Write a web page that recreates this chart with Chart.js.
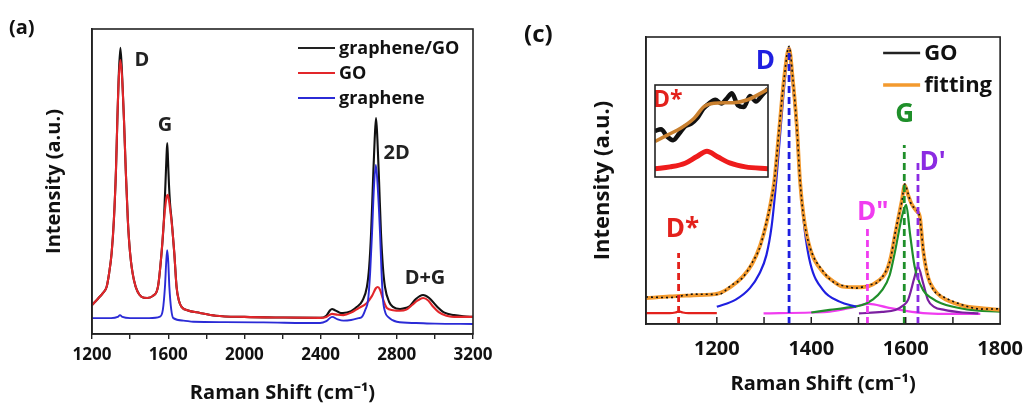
<!DOCTYPE html>
<html>
<head>
<meta charset="utf-8">
<script src="https://cdn.jsdelivr.net/npm/chart.js@4.4.1/dist/chart.umd.min.js"></script>
<style>
  html, body { margin: 0; padding: 0; background: #fff; }
  #wrap { position: relative; width: 1036px; height: 407px; overflow: hidden; background: #fff; }
  #wrap canvas { position: absolute; }
  .panel_tag { position: absolute; font-family: 'Open Sans', 'Liberation Sans', sans-serif; font-weight: 700; color: #111; line-height: 1; }
</style>
</head>
<body>
<div id="wrap">
  <canvas id="chart_a" width="520" height="407" style="left:0;top:0;width:520px;height:407px;"></canvas>
  <canvas id="chart_c" width="516" height="407" style="left:520px;top:0;width:516px;height:407px;"></canvas>
  <canvas id="chart_inset" width="115" height="94" style="left:654px;top:84px;width:115px;height:94px;"></canvas>
  <div class="panel_tag" style="left:9px;top:17px;font-size:20px;">(a)</div>
  <div class="panel_tag" style="left:524px;top:21px;font-size:24px;">(c)</div>
</div>
<script>
const FONT_FAMILY = "'Open Sans', 'Liberation Sans', sans-serif";

// ---- panel (a): full spectra ----
const a_series_names = ['graphene/GO', 'GO', 'graphene'];
const a_tick_labels = [1200, 1600, 2000, 2400, 2800, 3200];

const a_hybrid_x = [1200, 1230, 1258, 1277, 1290, 1303, 1315, 1326, 1333, 1340, 1349, 1358, 1368, 1377, 1388, 1400, 1420, 1460, 1490, 1520, 1546, 1565, 1578, 1586, 1591, 1595, 1599, 1604, 1610, 1618, 1632, 1644, 1656, 1670, 1700, 1767, 1850, 2000, 2200, 2397, 2430, 2450, 2460, 2475, 2500, 2517, 2560, 2591, 2620, 2643, 2655, 2665, 2675, 2684, 2691, 2698, 2707, 2717, 2727, 2738, 2760, 2780, 2817, 2850, 2869, 2900, 2938, 2970, 3011, 3050, 3100, 3150, 3200];
const a_hybrid_y = [9.5, 11.5, 13.5, 15.5, 20, 26.5, 37.5, 54, 70, 84, 93.8, 85, 70, 54, 37.5, 26.5, 17.7, 12.2, 11.8, 12.5, 15.4, 26.5, 38, 50, 58, 62.6, 57, 49, 42.5, 37.4, 26.5, 15.4, 11, 8.9, 7.8, 6.9, 6, 5.6, 5.4, 5.3, 6, 7.8, 8.2, 7.8, 7, 6.9, 7.5, 8.9, 11, 15.4, 22, 33, 50, 64, 70.8, 64, 50, 33, 22, 15.4, 10.5, 8.9, 8.2, 8.6, 9.2, 11.5, 12.8, 11.8, 9, 7, 6.2, 5.8, 5.6];

const a_go_x = [1200, 1230, 1258, 1277, 1290, 1303, 1315, 1326, 1333, 1340, 1349, 1358, 1368, 1377, 1388, 1400, 1420, 1460, 1490, 1520, 1546, 1565, 1578, 1586, 1592, 1598, 1606, 1612, 1620, 1632, 1644, 1656, 1670, 1700, 1767, 1850, 2000, 2200, 2397, 2430, 2460, 2490, 2520, 2560, 2600, 2640, 2670, 2690, 2700, 2712, 2730, 2748, 2780, 2817, 2850, 2880, 2910, 2938, 2965, 2990, 3020, 3060, 3120, 3200];
const a_go_y = [9.5, 11.5, 13.5, 15.5, 20, 26.5, 37.5, 54, 70, 83, 89.8, 84, 70, 54, 37.5, 26.5, 17.7, 12.2, 11.8, 12.5, 15.4, 26.5, 37.4, 42.5, 45, 45.6, 43, 40, 35.5, 26.5, 15.4, 11, 8.9, 7.8, 6.9, 6, 5.6, 5.4, 5.3, 5.6, 6.6, 6.3, 6.2, 7, 8.5, 10, 12.5, 15, 15.4, 14.5, 11, 8.5, 7.8, 7.6, 8, 9.5, 11, 11.8, 11, 9, 7.2, 6, 5.6, 5.6];

const a_graphene_x = [1200, 1300, 1335, 1347, 1360, 1400, 1500, 1557, 1572, 1583, 1590, 1595, 1600, 1606, 1616, 1627, 1680, 1732, 1900, 2100, 2397, 2430, 2460, 2490, 2520, 2560, 2600, 2617, 2635, 2649, 2660, 2670, 2680, 2690, 2700, 2712, 2720, 2728, 2740, 2754, 2800, 2900, 3000, 3200];
const a_graphene_y = [5.2, 5.2, 5.6, 6.2, 5.6, 5.2, 5.2, 5.7, 8, 15.5, 24, 27.5, 24, 15.5, 8, 5.2, 4.4, 4, 3.9, 3.8, 3.6, 4.2, 5.6, 4.8, 4.4, 4.6, 5.2, 5.6, 8, 11, 20, 33, 48, 55.4, 48, 33, 20, 11, 7, 5.6, 4, 3.6, 3.4, 3.3];

const a_peak_names = ['D', 'G', '2D', 'D+G'];
const a_peak_label_x = [1462, 1583, 2799, 2948];
const a_peak_label_y = [89.8, 68.5, 59.2, 18.4];

// ---- panel (c): GO fitting ----
const c_series_names = ['GO', 'fitting'];
const c_tick_labels = [1200, 1400, 1600, 1800];

const c_fit_x = [1050, 1100, 1150, 1204, 1230, 1255, 1275, 1292, 1305, 1315, 1322, 1332, 1342, 1353, 1361, 1370, 1376, 1384, 1398, 1425, 1450, 1467, 1495, 1522, 1540, 1557, 1568, 1578, 1592, 1598, 1605, 1612, 1622, 1630, 1637, 1647, 1660, 1675, 1716, 1760, 1800];
const c_fit_y = [9, 9.6, 10, 10.7, 13, 16.5, 21, 27.5, 35, 43, 50.2, 67.6, 85, 96, 85, 67.6, 50.2, 37.4, 26, 18, 14.5, 13, 12.8, 13.2, 14.8, 17.7, 23, 31.6, 43.2, 48.4, 45, 42, 39.5, 37.4, 25.8, 16.5, 12, 9.5, 6.6, 5.5, 4.9];
const c_go_y = [9.4, 9.2, 10.4, 10.3, 13.4, 16.2, 21.4, 27.1, 35.5, 42.6, 50, 68, 84.6, 96.8, 85.5, 67.2, 50.6, 37, 26.4, 18.4, 14.2, 13.4, 12.5, 13.6, 14.5, 18.1, 22.7, 32, 42.8, 48.8, 45.5, 41.6, 40, 37, 26.3, 16.9, 11.6, 9.9, 6.9, 5.2, 5.3];

const c_d_x = [1200, 1240, 1270, 1290, 1305, 1316, 1326, 1336, 1344, 1352, 1360, 1368, 1376, 1386, 1398, 1425, 1460, 1495];
const c_d_y = [6, 8.5, 12.5, 17.5, 24, 34, 50, 70, 85, 95, 85, 70, 50, 32.8, 21.1, 11.8, 7.8, 6];
const c_g_x = [1400, 1439, 1480, 1508, 1530, 1550, 1566, 1578, 1592, 1601, 1609, 1619, 1637, 1655, 1675, 1730, 1800];
const c_g_y = [4, 4.9, 5.8, 6.6, 8.5, 11.8, 17, 25.8, 37.4, 41.5, 31.6, 20, 11.8, 9, 7.2, 5.1, 4.3];
const c_dp_x = [1501, 1550, 1578, 1595, 1605, 1619, 1626, 1637, 1647, 1660, 1682, 1720, 1754];
const c_dp_y = [3.7, 4.2, 4.9, 6.5, 8.4, 16.5, 20, 14.2, 8.4, 6, 4.9, 4, 3.7];
const c_dpp_x = [1299, 1400, 1439, 1480, 1522, 1560, 1600, 1647, 1700, 1758];
const c_dpp_y = [3.7, 4, 4.3, 5.5, 7, 5.8, 4.6, 3.7, 3.5, 3.5];
const c_dstar_x = [1050, 1100, 1112, 1120, 1128, 1140, 1200];
const c_dstar_y = [3.8, 3.8, 4, 4.4, 4, 3.8, 3.8];

const c_band_names = ['D*', 'D', 'D"', 'G', "D'"];
const c_band_colors = ['#e3211c', '#1f1fe0', '#f03cf0', '#1f8f2a', '#8b2be2'];
const c_band_pos = [1119, 1353, 1519, 1597, 1626];
const c_band_top = [24.7, 96, 33.9, 62.4, 56.2];
const c_band_label_x = [1127, 1303, 1530, 1598, 1657];
const c_band_label_y = [32.8, 91.3, 38.7, 72.8, 56.4];

// ---- inset of panel (c): D* region ----
const inset_go_x = [1050, 1058, 1066, 1074, 1082, 1090, 1098, 1106, 1114, 1122, 1130, 1138, 1146, 1152, 1160, 1168, 1176, 1184, 1192, 1200];
const inset_go_y = [50, 52, 44, 40, 47, 55, 58, 64, 74, 80, 84, 80, 86, 91, 78, 76, 88, 82, 89, 96];
const inset_fit_x = [1050, 1067, 1084, 1102, 1115, 1128, 1154, 1172, 1200];
const inset_fit_y = [38.6, 45.8, 53, 63.9, 76.5, 80.2, 80.8, 83.7, 95.3];
const inset_dstar_x = [1050, 1070, 1090, 1105, 1119, 1133, 1150, 1170, 1200];
const inset_dstar_y = [9, 11, 15, 22, 28, 22, 15, 11, 9];

function to_points(xs, ys) {
    return xs.map(function (x, idx) {
        return { x: x, y: ys[idx] };
    });
}

function band_line(idx) {
    return [{ x: c_band_pos[idx], y: 0 }, { x: c_band_pos[idx], y: c_band_top[idx] }];
}

function curve(label, xs, ys, color, width, order) {
    return {
        label: label,
        data: to_points(xs, ys),
        borderColor: color,
        borderWidth: width,
        pointRadius: 0,
        fill: false,
        cubicInterpolationMode: 'monotone',
        order: order,
    };
}

const frame_plugin = {
    id: 'frame_box',
    afterDraw(chart) {
        const area = chart.chartArea;
        const ctx = chart.ctx;
        ctx.save();
        ctx.strokeStyle = '#222';
        ctx.lineWidth = 1.6;
        ctx.strokeRect(area.left, area.top, area.right - area.left, area.bottom - area.top);
        ctx.restore();
    },
};

function make_label_plugin(names, xs, ys, colors, font_size) {
    return {
        id: 'peak_labels',
        afterDatasetsDraw(chart) {
            const ctx = chart.ctx;
            const sx = chart.scales.x;
            const sy = chart.scales.y;
            ctx.save();
            ctx.font = 'bold ' + font_size + 'px ' + FONT_FAMILY;
            ctx.textAlign = 'center';
            ctx.textBaseline = 'middle';
            names.forEach(function (name, idx) {
                ctx.fillStyle = colors[idx % colors.length];
                ctx.fillText(name, sx.getPixelForValue(xs[idx]), sy.getPixelForValue(ys[idx]));
            });
            ctx.restore();
        },
    };
}

function make_legend_plugin(names, colors, widths, from_right, from_top, row_gap, font_size) {
    return {
        id: 'corner_legend',
        afterDraw(chart) {
            const ctx = chart.ctx;
            const area = chart.chartArea;
            const x0 = area.right - from_right;
            ctx.save();
            ctx.font = 'bold ' + font_size + 'px ' + FONT_FAMILY;
            ctx.textAlign = 'left';
            ctx.textBaseline = 'middle';
            names.forEach(function (name, idx) {
                const y = area.top + from_top + idx * row_gap;
                ctx.strokeStyle = colors[idx];
                ctx.lineWidth = widths[idx];
                ctx.beginPath();
                ctx.moveTo(x0, y);
                ctx.lineTo(x0 + 37, y);
                ctx.stroke();
                ctx.fillStyle = '#111';
                ctx.fillText(name, x0 + 41, y + 1);
            });
            ctx.restore();
        },
    };
}

const inner_tick_plugin = {
    id: 'inner_ticks',
    afterDraw(chart) {
        const sx = chart.scales.x;
        const area = chart.chartArea;
        const ctx = chart.ctx;
        ctx.save();
        ctx.strokeStyle = '#222';
        ctx.lineWidth = 1.5;
        sx.ticks.forEach(function (tick) {
            if (tick.value <= sx.min || tick.value >= sx.max) {
                return;
            }
            const px = sx.getPixelForValue(tick.value);
            ctx.beginPath();
            ctx.moveTo(px, area.bottom);
            ctx.lineTo(px, area.bottom - 7);
            ctx.stroke();
        });
        ctx.restore();
    },
};

function base_options() {
    return {
        responsive: false,
        animation: false,
        events: [],
        devicePixelRatio: 1,
        plugins: {
            legend: { display: false },
            tooltip: { enabled: false },
        },
    };
}

// panel (a)
const opts_a = base_options();
opts_a.layout = { padding: { left: 0, top: 29, right: 47, bottom: 0 } };
opts_a.scales = {
    x: {
        type: 'linear',
        min: 1200,
        max: 3200,
        afterFit: function (scale) { scale.height = 73; },
        ticks: {
            stepSize: 200,
            autoSkip: false,
            maxRotation: 0,
            padding: 6,
            color: '#111',
            font: { family: FONT_FAMILY, size: 17, weight: 'bold' },
            callback: function (v) { return a_tick_labels.includes(v) ? String(v) : ''; },
        },
        grid: { drawOnChartArea: false, drawTicks: true, tickLength: 5, color: '#222', lineWidth: 1.4 },
        border: { color: '#222', width: 1.6 },
        title: {
            display: true,
            text: 'Raman Shift (cm\u207B\u00B9)',
            color: '#111',
            font: { family: FONT_FAMILY, size: 20, weight: 'bold' },
            padding: { top: 0, bottom: 2 },
        },
    },
    y: {
        min: 0,
        max: 100,
        afterFit: function (scale) { scale.width = 92; },
        ticks: { display: false },
        grid: { display: false, drawTicks: false },
        border: { color: '#222', width: 1.6 },
        title: {
            display: true,
            text: 'Intensity (a.u.)',
            color: '#111',
            font: { family: FONT_FAMILY, size: 20, weight: 'bold' },
            padding: { top: 42, bottom: 0 },
        },
    },
};

new Chart(document.getElementById('chart_a').getContext('2d'), {
    type: 'line',
    data: {
        datasets: [
            curve(a_series_names[2], a_graphene_x, a_graphene_y, '#2b2bd6', 1.9, 0),
            curve(a_series_names[1], a_go_x, a_go_y, '#e2262a', 2.1, 1),
            curve(a_series_names[0], a_hybrid_x, a_hybrid_y, '#111111', 2.1, 2),
        ],
    },
    options: opts_a,
    plugins: [
        frame_plugin,
        make_label_plugin(a_peak_names, a_peak_label_x, a_peak_label_y, ['#222'], 20),
        make_legend_plugin(a_series_names, ['#222', '#e2262a', '#2b2bd6'], [2, 2, 2], 175, 19, 25, 18),
    ],
});

// panel (c)
const opts_c = base_options();
opts_c.layout = { padding: { left: 0, top: 37, right: 29, bottom: 0 } };
opts_c.scales = {
    x: {
        type: 'linear',
        min: 1050,
        max: 1800,
        afterFit: function (scale) { scale.height = 83; },
        ticks: {
            stepSize: 100,
            autoSkip: false,
            maxRotation: 0,
            padding: 13,
            color: '#111',
            font: { family: FONT_FAMILY, size: 20, weight: 'bold' },
            callback: function (v) { return c_tick_labels.includes(v) ? String(v) : ''; },
        },
        grid: { drawOnChartArea: false, drawTicks: false },
        border: { color: '#222', width: 1.6 },
        title: {
            display: true,
            text: 'Raman Shift (cm\u207B\u00B9)',
            color: '#111',
            font: { family: FONT_FAMILY, size: 20, weight: 'bold' },
            padding: { top: 0, bottom: 11 },
        },
    },
    y: {
        min: 0,
        max: 100,
        afterFit: function (scale) { scale.width = 126; },
        ticks: { display: false },
        grid: { display: false, drawTicks: false },
        border: { color: '#222', width: 1.6 },
        title: {
            display: true,
            text: 'Intensity (a.u.)',
            color: '#111',
            font: { family: FONT_FAMILY, size: 22, weight: 'bold' },
            padding: { top: 70, bottom: 0 },
        },
    },
};

const dash_sets = c_band_names.map(function (name, idx) {
    return {
        label: name + ' position',
        data: band_line(idx),
        borderColor: c_band_colors[idx],
        borderWidth: 2.8,
        borderDash: [7, 4],
        pointRadius: 0,
        fill: false,
        order: 0,
    };
});

const go_line = curve(c_series_names[0], c_fit_x, c_go_y, '#111111', 1.6, 1);
go_line.borderDash = [2, 3];

new Chart(document.getElementById('chart_c').getContext('2d'), {
    type: 'line',
    data: {
        datasets: dash_sets.concat([
            go_line,
            curve(c_series_names[1], c_fit_x, c_fit_y, '#f39a2e', 3.8, 2),
            curve('D', c_d_x, c_d_y, '#1f1fe0', 2.2, 3),
            curve('G', c_g_x, c_g_y, '#1f8f2a', 2.2, 3),
            curve("D'", c_dp_x, c_dp_y, '#7b1fa0', 2.2, 3),
            curve('D"', c_dpp_x, c_dpp_y, '#f03cf0', 2.2, 3),
            curve('D*', c_dstar_x, c_dstar_y, '#e3211c', 2.2, 3),
        ]),
    },
    options: opts_c,
    plugins: [
        frame_plugin,
        inner_tick_plugin,
        make_label_plugin(c_band_names, c_band_label_x, c_band_label_y, c_band_colors, 26),
        make_legend_plugin(c_series_names, ['#222', '#f39a2e'], [2.4, 3.5], 117, 16, 32, 22),
    ],
});

// inset
const opts_inset = base_options();
opts_inset.layout = { padding: 1 };
opts_inset.scales = {
    x: { type: 'linear', min: 1050, max: 1200, display: false },
    y: { min: 0, max: 100, display: false },
};

new Chart(document.getElementById('chart_inset').getContext('2d'), {
    type: 'line',
    data: {
        datasets: [
            curve('fitting', inset_fit_x, inset_fit_y, '#c9802f', 3.5, 0),
            curve('GO', inset_go_x, inset_go_y, '#111111', 4.5, 1),
            curve('D*', inset_dstar_x, inset_dstar_y, '#ee1c1c', 5, 2),
        ],
    },
    options: opts_inset,
    plugins: [
        frame_plugin,
        make_label_plugin(['D*'], [1067], [83], ['#e3211c'], 23),
    ],
});
</script>
</body>
</html>
